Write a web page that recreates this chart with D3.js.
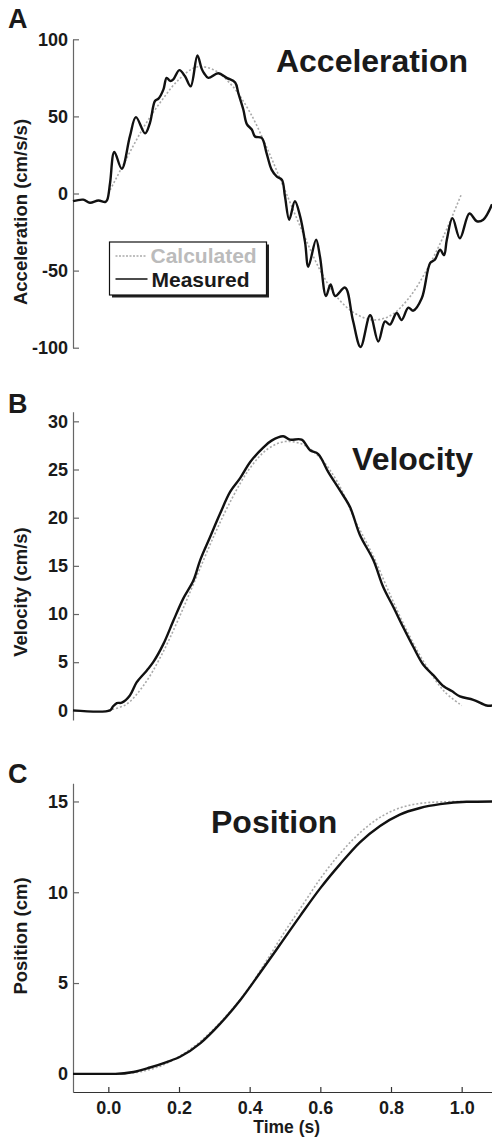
<!DOCTYPE html>
<html>
<head>
<meta charset="utf-8">
<script src="https://cdn.jsdelivr.net/npm/d3@7"></script>
<style>
  body { margin: 0; background: #fff; }
  svg { display: block; }
  text { font-family: "Liberation Sans", Arial, Helvetica, sans-serif; font-weight: bold; fill: #1a1a1a; }
</style>
</head>
<body>
<div id="chart"></div>
<script>
// time (s) of points
const accTime = [-0.100, -0.071, -0.052, -0.028, -0.009, -0.003, 0.005, 0.017, 0.038, 0.061, 0.078, 0.104, 0.118, 0.132, 0.142,
  0.156, 0.165, 0.175, 0.184, 0.201, 0.217, 0.233, 0.252, 0.264, 0.271, 0.283, 0.311, 0.335, 0.359, 0.368, 0.382, 0.392,
  0.406, 0.415, 0.434, 0.448, 0.462, 0.477, 0.491, 0.500, 0.512, 0.528, 0.543, 0.557, 0.566, 0.588, 0.599, 0.616, 0.629,
  0.642, 0.670, 0.692, 0.714, 0.741, 0.764, 0.783, 0.797, 0.816, 0.830, 0.849, 0.863, 0.887, 0.911, 0.924, 0.939, 0.950,
  0.958, 0.974, 0.995, 1.022, 1.043, 1.061, 1.086]
const accMeasured = [-5, -4, -6, -4.5, -5.5, -4, 7, 27, 16, 37, 49.5, 39, 46, 60, 61.5,
  67.5, 75, 73, 74, 80, 76, 69.5, 89.5, 81, 78, 75, 78, 75, 72, 65, 54.5, 45,
  41.5, 37, 36, 26, 15.5, 11, 9, -2, -17, -5, -15, -32, -47.5, -30, -41, -66.5, -59,
  -66.5, -61, -82, -99.5, -79, -96, -83, -85, -77.5, -82, -74, -76, -68, -45, -43, -36.5, -40,
  -30, -16, -29, -13, -18, -17, -7]

// calculated curves, read every 0.05 s
const calcTime = [0, 0.05, 0.10, 0.15, 0.20, 0.25, 0.30, 0.35, 0.40, 0.45, 0.50,
  0.55, 0.60, 0.65, 0.70, 0.75, 0.80, 0.85, 0.90, 0.95, 1.00]
const accCalculated = [0, 22, 43, 60, 74, 82, 80, 70, 53, 29, 2,
  -25, -50, -68, -78, -82, -79, -68, -50, -27, 0]
const velCalculated = [0, 0.6, 2.6, 5.7, 9.6, 13.9, 18.2, 22.0, 25.1, 27.1, 27.9,
  27.6, 26.2, 23.6, 19.6, 16.0, 11.8, 7.9, 4.6, 2.0, 0.5]
const posCalculated = [0, 0.02, 0.15, 0.45, 0.95, 1.62, 2.5, 3.55, 4.8, 6.3, 7.85,
  9.3, 10.75, 12.0, 13.05, 13.88, 14.45, 14.78, 14.93, 14.98, 15.0]

const velTime = [-0.100, 0.005, 0.013, 0.024, 0.038, 0.061, 0.080, 0.109, 0.127, 0.156, 0.184, 0.212, 0.241, 0.260, 0.288,
  0.316, 0.345, 0.373, 0.402, 0.439, 0.462, 0.495, 0.514, 0.547, 0.571, 0.594, 0.623, 0.656, 0.684, 0.712, 0.750,
  0.778, 0.807, 0.835, 0.863, 0.892, 0.921, 0.949, 0.972, 0.995, 1.033, 1.071, 1.086]
const velMeasured = [0, 0, 0.4, 0.76, 0.8, 1.55, 2.9, 4.15, 5.0, 6.9, 9.3, 11.6, 13.5, 15.6, 18.0,
  20.4, 22.7, 24.1, 25.8, 27.3, 28.0, 28.45, 28.1, 28.1, 27.0, 26.6, 24.7, 22.8, 21.1, 18.2, 15.6,
  12.8, 10.7, 8.6, 6.6, 4.7, 3.6, 2.5, 2.0, 1.45, 1.1, 0.5, 0.5]

const posTime = [-0.100, 0.020, 0.071, 0.118, 0.165, 0.203, 0.260, 0.316, 0.373, 0.429, 0.486, 0.543, 0.599,
  0.656, 0.712, 0.769, 0.825, 0.882, 0.939, 1.014, 1.086]
const posMeasured = [0, 0, 0.1, 0.35, 0.65, 0.94, 1.68, 2.75, 4.05, 5.55, 7.12, 8.7, 10.2,
  11.55, 12.75, 13.65, 14.28, 14.64, 14.85, 14.98, 15.0]

const xTicks = [0, 0.2, 0.4, 0.6, 0.8, 1.0]
const accTicks = [-100, -50, 0, 50, 100]
const velTicks = [0, 5, 10, 15, 20, 25, 30]
const posTicks = [0, 5, 10, 15]

const width = 492, height = 1139
const svg = d3.select("#chart").append("svg")
  .attr("width", width)
  .attr("height", height)

const x = d3.scaleLinear().domain([-0.1, 1.1]).range([73, 497])

const panels = [
  { letter: "A", letterY: 28, title: "Acceleration", titleX: 468, titleY: 72, anchor: "end",
    ylabel: "Acceleration (cm/s/s)", labelY: 212, domain: [-100, 100], range: [347.7, 39.3], ticks: accTicks,
    calc: accCalculated, meas: accMeasured, mtime: accTime, curve: d3.curveCatmullRom },
  { letter: "B", letterY: 413, title: "Velocity", titleX: 473, titleY: 470, anchor: "end",
    ylabel: "Velocity (cm/s)", labelY: 592, domain: [-1, 31], range: [720, 411.7], ticks: velTicks,
    calc: velCalculated, meas: velMeasured, mtime: velTime, curve: d3.curveCatmullRom },
  { letter: "C", letterY: 783, title: "Position", titleX: 211, titleY: 833, anchor: "start",
    ylabel: "Position (cm)", labelY: 936, domain: [-1, 16], range: [1092, 783.3], ticks: posTicks,
    calc: posCalculated, meas: posMeasured, mtime: posTime, curve: d3.curveMonotoneX, xaxis: true }
]

panels.forEach(p => {
  const y = d3.scaleLinear().domain(p.domain).range(p.range)
  const g = svg.append("g")

  // y axis, ticks point inward
  const yAxis = g.append("g")
    .attr("transform", "translate(73,0)")
    .call(d3.axisLeft(y).tickValues(p.ticks).tickFormat(d => String(d))
      .tickSizeInner(-6).tickSizeOuter(0).tickPadding(5))
  yAxis.select(".domain").attr("stroke", "#666").attr("stroke-width", 1.2)
  yAxis.selectAll(".tick line").attr("stroke", "#666").attr("stroke-width", 1.2)
  yAxis.selectAll(".tick text").style("font-size", "18px").attr("fill", "#1a1a1a")

  if (p.xaxis) {
    const xAxis = g.append("g")
      .attr("transform", "translate(0," + p.range[0] + ")")
      .call(d3.axisBottom(x).tickValues(xTicks).tickFormat(d3.format(".1f"))
        .tickSizeInner(-5).tickSizeOuter(0).tickPadding(9))
    xAxis.select(".domain").attr("stroke", "#333").attr("stroke-width", 1.2)
    xAxis.selectAll(".tick line").attr("stroke", "#333").attr("stroke-width", 1.2)
    xAxis.selectAll(".tick text").style("font-size", "18px").attr("fill", "#1a1a1a")

    g.append("text")
      .attr("x", 286.7).attr("y", 1133)
      .attr("text-anchor", "middle")
      .style("font-size", "17.5px")
      .text("Time (s)")
  }

  // calculated (dotted grey)
  const calcLine = d3.line()
    .x((d, i) => x(calcTime[i]))
    .y(d => y(d))
    .curve(d3.curveCatmullRom)
  g.append("path")
    .datum(p.calc)
    .attr("d", calcLine)
    .attr("fill", "none")
    .attr("stroke", "#aaa")
    .attr("stroke-width", 1.6)
    .attr("stroke-dasharray", "2,2")

  // measured (solid black)
  const measLine = d3.line()
    .x((d, i) => x(p.mtime[i]))
    .y(d => y(d))
    .curve(p.curve)
  g.append("path")
    .datum(p.meas)
    .attr("d", measLine)
    .attr("fill", "none")
    .attr("stroke", "#111")
    .attr("stroke-width", 2.4)
    .attr("stroke-linejoin", "round")

  g.append("text")
    .attr("x", 8).attr("y", p.letterY)
    .style("font-size", "27px")
    .text(p.letter)

  g.append("text")
    .attr("x", p.titleX).attr("y", p.titleY)
    .attr("text-anchor", p.anchor)
    .style("font-size", "32px")
    .text(p.title)

  g.append("text")
    .attr("transform", "translate(26.5," + p.labelY + ") rotate(-90)")
    .attr("text-anchor", "middle")
    .style("font-size", "18.5px")
    .text(p.ylabel)
})

// legend in panel A
const legend = svg.append("g").attr("transform", "translate(109.5,242)")
legend.append("rect")
  .attr("x", 2.5).attr("y", 2.5).attr("width", 157).attr("height", 53)
  .attr("fill", "#222")
legend.append("rect")
  .attr("x", 0).attr("y", 0).attr("width", 157).attr("height", 53)
  .attr("fill", "#fff").attr("stroke", "#111").attr("stroke-width", 1.2)
legend.append("line")
  .attr("x1", 6).attr("x2", 37).attr("y1", 14).attr("y2", 14)
  .attr("stroke", "#aaa").attr("stroke-width", 1.4).attr("stroke-dasharray", "2,1.5")
legend.append("line")
  .attr("x1", 6).attr("x2", 38).attr("y1", 37).attr("y2", 37)
  .attr("stroke", "#111").attr("stroke-width", 1.6)
legend.append("text")
  .attr("x", 41).attr("y", 20.5)
  .style("font-size", "21px").style("fill", "#bbb")
  .text("Calculated")
legend.append("text")
  .attr("x", 42).attr("y", 44.5)
  .style("font-size", "21px")
  .text("Measured")
</script>
</body>
</html>
